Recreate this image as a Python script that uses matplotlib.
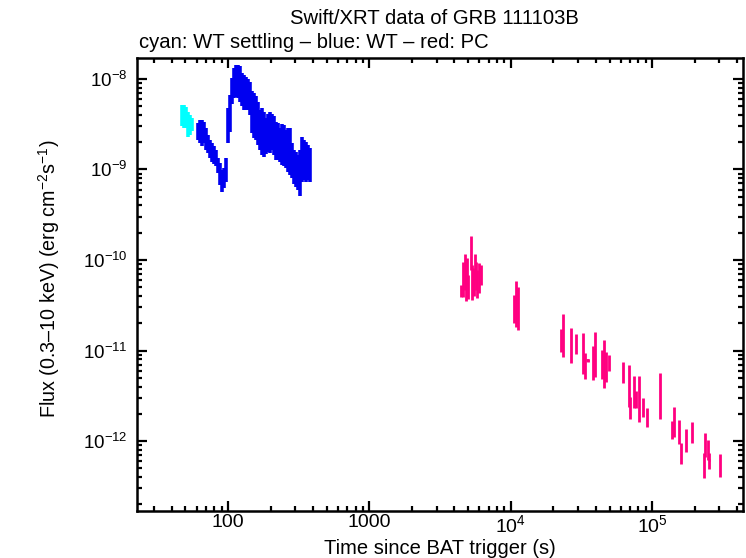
import matplotlib
matplotlib.use("Agg")
import matplotlib.pyplot as plt
from matplotlib.ticker import LogLocator, NullFormatter
import numpy as np

plt.rcParams['font.family'] = ['Liberation Sans', 'DejaVu Sans']
plt.rcParams['mathtext.fontset'] = 'custom'
plt.rcParams['mathtext.rm'] = 'Liberation Sans'
plt.rcParams['mathtext.it'] = 'Liberation Sans:italic'
plt.rcParams['mathtext.bf'] = 'Liberation Sans:bold'

# ---- data ----
# WT settling (cyan)
wts_time = [47.2, 48.8, 50.4, 52.1, 53.8, 55.6]
wts_flux = [4.09e-9, 4.02e-9, 3.89e-9, 3.30e-9, 3.20e-9, 3.19e-9]
wts_err = [1.07e-9, 1.14e-9, 1.02e-9, 1.02e-9, 0.80e-9, 0.52e-9]

# WT (blue)
wt_time = [61.3, 63.3, 65.5, 67.6, 69.9, 72.2, 74.6, 77.0, 79.6, 82.2, 84.9, 87.8,
           90.7, 93.7, 96.8, 100.0, 103.3, 106.7, 110.3, 113.9, 117.7, 121.6, 125.6,
           129.8, 134.1, 138.5, 143.1, 147.9, 152.8, 157.8, 163.1, 168.5, 174.0, 179.8,
           185.8, 191.9, 198.3, 204.9, 211.7, 218.7, 225.9, 233.4, 241.1, 249.1, 257.4,
           265.9, 274.7, 283.8, 293.2, 302.9, 312.9, 323.3, 334.0, 345.1, 356.5, 368.3,
           380.5]
wt_flux = [2.69e-9, 2.74e-9, 2.67e-9, 2.66e-9, 2.26e-9, 1.96e-9, 1.73e-9, 1.59e-9,
           1.48e-9, 1.37e-9, 1.13e-9, 0.93e-9, 0.77e-9, 0.83e-9, 1.03e-9, 3.37e-9,
           4.63e-9, 7.78e-9, 9.70e-9, 10.30e-9, 10.22e-9, 9.74e-9, 8.34e-9, 7.81e-9,
           7.53e-9, 7.27e-9, 6.63e-9, 4.95e-9, 4.62e-9, 4.30e-9, 3.72e-9, 3.09e-9,
           3.11e-9, 2.85e-9, 2.60e-9, 2.83e-9, 2.92e-9, 2.87e-9, 2.67e-9, 2.31e-9,
           2.27e-9, 2.04e-9, 2.15e-9, 2.10e-9, 1.89e-9, 1.91e-9, 1.87e-9, 1.38e-9,
           1.17e-9, 1.10e-9, 1.02e-9, 1.08e-9, 1.51e-9, 1.44e-9, 1.37e-9, 1.31e-9,
           1.23e-9]
wt_err = [0.57e-9, 0.78e-9, 0.85e-9, 0.69e-9, 0.62e-9, 0.44e-9, 0.39e-9, 0.38e-9,
          0.33e-9, 0.27e-9, 0.21e-9, 0.25e-9, 0.21e-9, 0.21e-9, 0.31e-9, 1.41e-9,
          2.03e-9, 2.48e-9, 3.53e-9, 3.98e-9, 4.06e-9, 4.18e-9, 3.31e-9, 3.26e-9,
          2.99e-9, 2.73e-9, 2.63e-9, 2.42e-9, 2.39e-9, 2.19e-9, 1.85e-9, 1.45e-9,
          1.67e-9, 1.47e-9, 1.11e-9, 1.27e-9, 1.40e-9, 1.23e-9, 1.23e-9, 1.04e-9,
          1.00e-9, 0.83e-9, 1.03e-9, 1.00e-9, 0.85e-9, 0.97e-9, 1.00e-9, 0.58e-9,
          0.48e-9, 0.46e-9, 0.43e-9, 0.57e-9, 0.78e-9, 0.68e-9, 0.64e-9, 0.55e-9,
          0.50e-9]

# PC (red)
pc_time = [4457, 4604, 4757, 4835, 4914, 4995, 5245, 5331, 5419, 5508, 5598, 5690,
           5783, 5976, 6172,
           10571, 10920, 11282,
           22620, 23370, 26890, 29170, 32700, 33460, 35020, 38480, 39560, 44570,
           46040, 47100, 49940, 62760, 69180, 70330, 75070, 76820, 81050, 86940,
           92780, 114700, 139400, 144000, 156200, 161500, 175200, 193200, 234900,
           238800, 248300, 254800, 304900]
pc_flux = [0.460e-10, 0.670e-10, 0.816e-10, 0.564e-10, 0.790e-10, 0.527e-10,
           1.308e-10, 0.621e-10, 0.613e-10, 0.588e-10, 0.883e-10, 0.708e-10,
           0.578e-10, 0.680e-10, 0.705e-10,
           0.306e-10, 0.384e-10, 0.336e-10,
           1.345e-11, 1.690e-11, 1.250e-11, 1.218e-11, 1.055e-11, 0.711e-11,
           0.786e-11, 0.797e-11, 1.055e-11, 0.749e-11, 0.846e-11, 0.706e-11,
           0.743e-11, 0.592e-11, 0.464e-11, 0.241e-11, 0.377e-11, 0.294e-11,
           0.342e-11, 0.241e-11, 0.187e-11, 0.370e-11, 0.136e-11, 0.174e-11,
           0.132e-11, 0.0754e-11, 0.106e-11, 0.1285e-11, 0.0564e-11, 0.0946e-11,
           0.0822e-11, 0.0614e-11, 0.056e-11]
pc_err = [0.070e-10, 0.280e-10, 0.350e-10, 0.212e-10, 0.260e-10, 0.156e-10,
          0.533e-10, 0.260e-10, 0.203e-10, 0.188e-10, 0.282e-10, 0.242e-10,
          0.198e-10, 0.248e-10, 0.176e-10,
          0.104e-10, 0.202e-10, 0.167e-10,
          0.383e-11, 0.842e-11, 0.523e-11, 0.304e-11, 0.506e-11, 0.227e-11,
          0.030e-11, 0.325e-11, 0.546e-11, 0.265e-11, 0.461e-11, 0.257e-11,
          0.149e-11, 0.155e-11, 0.227e-11, 0.066e-11, 0.146e-11, 0.063e-11,
          0.180e-11, 0.057e-11, 0.044e-11, 0.195e-11, 0.031e-11, 0.063e-11,
          0.039e-11, 0.0197e-11, 0.030e-11, 0.0335e-11, 0.0174e-11, 0.028e-11,
          0.0205e-11, 0.0124e-11, 0.016e-11]
pc_terr = [0] * 24 + [800] + [0] * 24 + [2500] + [0]

xticks = [100, 1000, 1e4, 1e5]
xticklabels = ['100', '1000', r'$10^4$', r'$10^5$']
yticks = [1e-12, 1e-11, 1e-10, 1e-9, 1e-8]
yticklabels = [r'$10^{-12}$', r'$10^{-11}$', r'$10^{-10}$', r'$10^{-9}$', r'$10^{-8}$']

# ---- plot ----
fig = plt.figure(figsize=(7.46, 5.58), dpi=100)
ax = fig.add_axes([137/746, 1 - 511/558, (743-137)/746, (511-58)/558])

ax.errorbar(wts_time, wts_flux, yerr=wts_err, fmt='none', ecolor='#00FFFF',
            elinewidth=2.6, capsize=0)
ax.errorbar(wt_time, wt_flux, yerr=wt_err, fmt='none', ecolor='#0000F0',
            elinewidth=2.6, capsize=0)
ax.errorbar(pc_time, pc_flux, yerr=pc_err, xerr=pc_terr, fmt='none', ecolor='#FF0080',
            elinewidth=2.0, capsize=0)

ax.set_xscale('log')
ax.set_yscale('log')
ax.set_xlim(22.7, 4.4e5)
ax.set_ylim(1.69e-13, 1.7e-8)

ax.set_xticks(xticks)
ax.set_xticklabels(xticklabels)
ax.set_yticks(yticks)
ax.set_yticklabels(yticklabels)
ax.xaxis.set_minor_locator(LogLocator(base=10, subs=np.arange(2, 10), numticks=20))
ax.yaxis.set_minor_locator(LogLocator(base=10, subs=np.arange(2, 10), numticks=20))
ax.xaxis.set_minor_formatter(NullFormatter())
ax.yaxis.set_minor_formatter(NullFormatter())

ax.tick_params(which='both', direction='in', top=True, right=True,
               width=1.6, color='black')
ax.tick_params(which='major', length=7)
ax.tick_params(which='minor', length=3.5)
ax.tick_params(axis='x', pad=2, labelsize=14)
ax.tick_params(axis='y', pad=7, labelsize=13.5)
for s in ax.spines.values():
    s.set_linewidth(1.8)

ax.set_xlabel('Time since BAT trigger (s)', fontsize=14.5)
ax.xaxis.set_label_coords(0.5, (511 - 539) / 453)
ax.set_ylabel(r'Flux (0.3–10 keV) (erg cm$^{-2}$s$^{-1}$)', fontsize=14.2)
ax.yaxis.set_label_coords((62 - 137) / 606, (511 - 279) / 453)

fig.text(434/746, 1 - 18/558, 'Swift/XRT data of GRB 111103B', ha='center', va='center',
         fontsize=14.6)
fig.text(139/746, 1 - 43/558, 'cyan: WT settling – blue: WT – red: PC', ha='left',
         va='center', fontsize=14.6)

fig.savefig('out.png', dpi=100)
